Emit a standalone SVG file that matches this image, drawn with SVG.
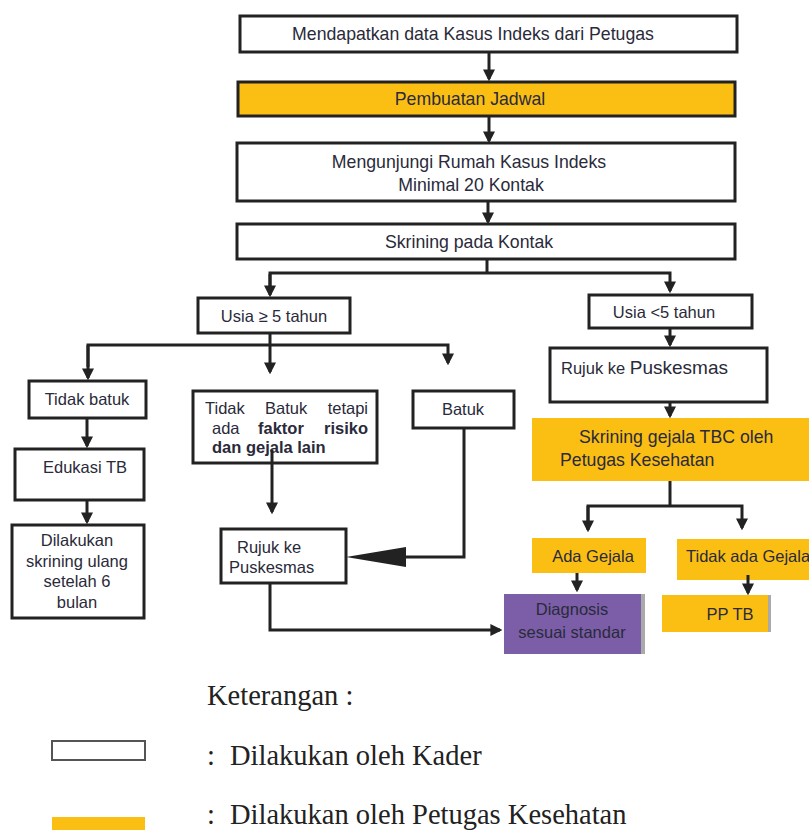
<svg xmlns="http://www.w3.org/2000/svg" width="809" height="830" viewBox="0 0 809 830">
<style>
.b{fill:#fff;stroke:#222;stroke-width:3}
.o{fill:#FBBF14;stroke:#222;stroke-width:3}
.of{fill:#FBBF14}
.t{font-family:"Liberation Sans",Arial,sans-serif;font-size:16.5px;fill:#2a2a3a}
.big{font-size:17.7px}
.tc{text-anchor:middle}
.bd{font-weight:bold}
.l{fill:none;stroke:#222;stroke-width:3}
.lg{font-family:"Liberation Serif","Times New Roman",serif;font-size:28.5px;fill:#222}
</style>
<defs>
<marker id="ah" markerWidth="4" markerHeight="4" refX="3.2" refY="2" orient="auto" markerUnits="strokeWidth">
<path d="M0,0 L4,2 L0,4 z" fill="#222"/>
</marker>
</defs>
<rect width="809" height="830" fill="#fff"/>

<g id="n1"><rect class="b" x="240" y="16" width="497" height="36"/><text class="t big tc" x="473" y="40">Mendapatkan data Kasus Indeks dari Petugas</text></g>
<g id="n2"><rect class="o" x="238" y="82" width="497" height="34"/><text class="t big tc" x="470" y="105">Pembuatan Jadwal</text></g>
<g id="n3"><rect class="b" x="237" y="143" width="498" height="58"/><text class="t big tc" x="469" y="168">Mengunjungi Rumah Kasus Indeks</text><text class="t big tc" x="471" y="191">Minimal 20 Kontak</text></g>
<g id="n4"><rect class="b" x="237" y="224" width="498" height="35"/><text class="t big tc" x="469" y="248">Skrining pada Kontak</text></g>
<g id="n5"><rect class="b" x="198" y="298" width="152" height="35"/><text class="t tc" x="274" y="322">Usia ≥ 5 tahun</text></g>
<g id="n6"><rect class="b" x="589" y="295" width="163" height="33"/><text class="t tc" x="664" y="318">Usia &lt;5 tahun</text></g>
<g id="n7"><rect class="b" x="29" y="381" width="117" height="37"/><text class="t tc" x="87" y="405">Tidak batuk</text></g>
<g id="n8"><rect class="b" x="193" y="391" width="184" height="72"/>
<text class="t" y="414"><tspan x="205">Tidak</tspan><tspan x="265">Batuk</tspan><tspan x="368" text-anchor="end">tetapi</tspan></text>
<text class="t" y="434"><tspan x="212">ada</tspan><tspan x="258" class="bd">faktor</tspan><tspan x="368" text-anchor="end" class="bd">risiko</tspan></text>
<text class="t bd" x="212" y="453">dan gejala lain</text></g>
<g id="n9"><rect class="b" x="413" y="391" width="101" height="37"/><text class="t tc" x="463" y="415">Batuk</text></g>
<g id="n10"><rect class="b" x="15" y="449" width="129" height="51"/><text class="t tc" x="85" y="473">Edukasi TB</text></g>
<g id="n11"><rect class="b" x="12" y="525" width="132" height="93"/><text class="t tc" x="77" y="546">Dilakukan</text><text class="t tc" x="77" y="567">skrining ulang</text><text class="t tc" x="77" y="587">setelah 6</text><text class="t tc" x="77" y="608">bulan</text></g>
<g id="n12"><rect class="b" x="221" y="529" width="125" height="54"/><text class="t" x="237" y="553">Rujuk ke</text><text class="t" x="229" y="573">Puskesmas</text></g>
<g id="n13"><rect x="504" y="594" width="137" height="60" fill="#7B5EA7"/><rect x="641" y="594" width="4" height="60" fill="#aaa"/><text class="t tc" x="572" y="615">Diagnosis</text><text class="t tc" x="572" y="638">sesuai standar</text></g>
<g id="n14"><rect class="b" x="550" y="348" width="217" height="54"/><text class="t" x="561" y="374" font-size="16px">Rujuk ke <tspan font-size="19px">Puskesmas</tspan></text></g>
<g id="n15"><rect class="of" x="532" y="418" width="277" height="63"/><text class="t big" x="579" y="443">Skrining gejala TBC oleh</text><text class="t big" x="560" y="466">Petugas Kesehatan</text></g>
<g id="n16"><rect class="of" x="532" y="538" width="114" height="35"/><text class="t tc" x="593" y="562">Ada Gejala</text></g>
<g id="n17"><rect class="of" x="677" y="539" width="132" height="41"/><text class="t" x="686" y="562" font-size="15.6px">Tidak ada Gejala</text></g>
<g id="n18"><rect class="of" x="662" y="595" width="106" height="37"/><rect x="768" y="595" width="3" height="37" fill="#aaa"/><text class="t tc" x="730" y="620">PP TB</text></g>

<g id="connectors">
<line class="l" x1="489" y1="52" x2="489" y2="79" marker-end="url(#ah)"/>
<line class="l" x1="489" y1="116" x2="489" y2="141" marker-end="url(#ah)"/>
<line class="l" x1="488" y1="201" x2="488" y2="222" marker-end="url(#ah)"/>
<path class="l" d="M487,259 V273"/>
<path class="l" d="M270,292 V273 H670 V291" marker-end="url(#ah)"/>
<line class="l" x1="270" y1="274" x2="270" y2="295" marker-end="url(#ah)"/>
<line class="l" x1="270" y1="333" x2="270" y2="372" marker-end="url(#ah)"/>
<path class="l" d="M88,367 V345 H448 V363" marker-end="url(#ah)"/>
<line class="l" x1="88" y1="345" x2="88" y2="378" marker-end="url(#ah)"/>
<line class="l" x1="87" y1="418" x2="87" y2="446" marker-end="url(#ah)"/>
<line class="l" x1="87" y1="500" x2="87" y2="522" marker-end="url(#ah)"/>
<line class="l" x1="272" y1="450" x2="272" y2="512" marker-end="url(#ah)"/>
<path class="l" d="M464,428 V557 H400"/>
<path d="M346,557 L406,547 L406,567 z" fill="#222"/>
<path class="l" d="M270,583 V630 H500" marker-end="url(#ah)"/>
<line class="l" x1="670" y1="328" x2="670" y2="345" marker-end="url(#ah)"/>
<line class="l" x1="670" y1="402" x2="670" y2="416" marker-end="url(#ah)"/>
<path class="l" d="M670,481 V506"/>
<path class="l" d="M588,529 V506 H742 V528" marker-end="url(#ah)"/>
<line class="l" x1="588" y1="506" x2="588" y2="530" marker-end="url(#ah)"/>
<line class="l" x1="577" y1="573" x2="577" y2="590" marker-end="url(#ah)"/>
<line class="l" x1="748" y1="575" x2="748" y2="593" marker-end="url(#ah)"/>
</g>

<g id="legend">
<text class="lg" x="207" y="705">Keterangan :</text>
<rect x="52" y="741" width="93" height="19" fill="#fff" stroke="#555" stroke-width="2"/>
<text class="lg" y="765"><tspan x="207">:</tspan><tspan x="230">Dilakukan oleh Kader</tspan></text>
<rect x="52" y="817" width="93" height="13" fill="#FBBF14"/>
<text class="lg" y="824"><tspan x="207">:</tspan><tspan x="230">Dilakukan oleh Petugas Kesehatan</tspan></text>
</g>
</svg>
